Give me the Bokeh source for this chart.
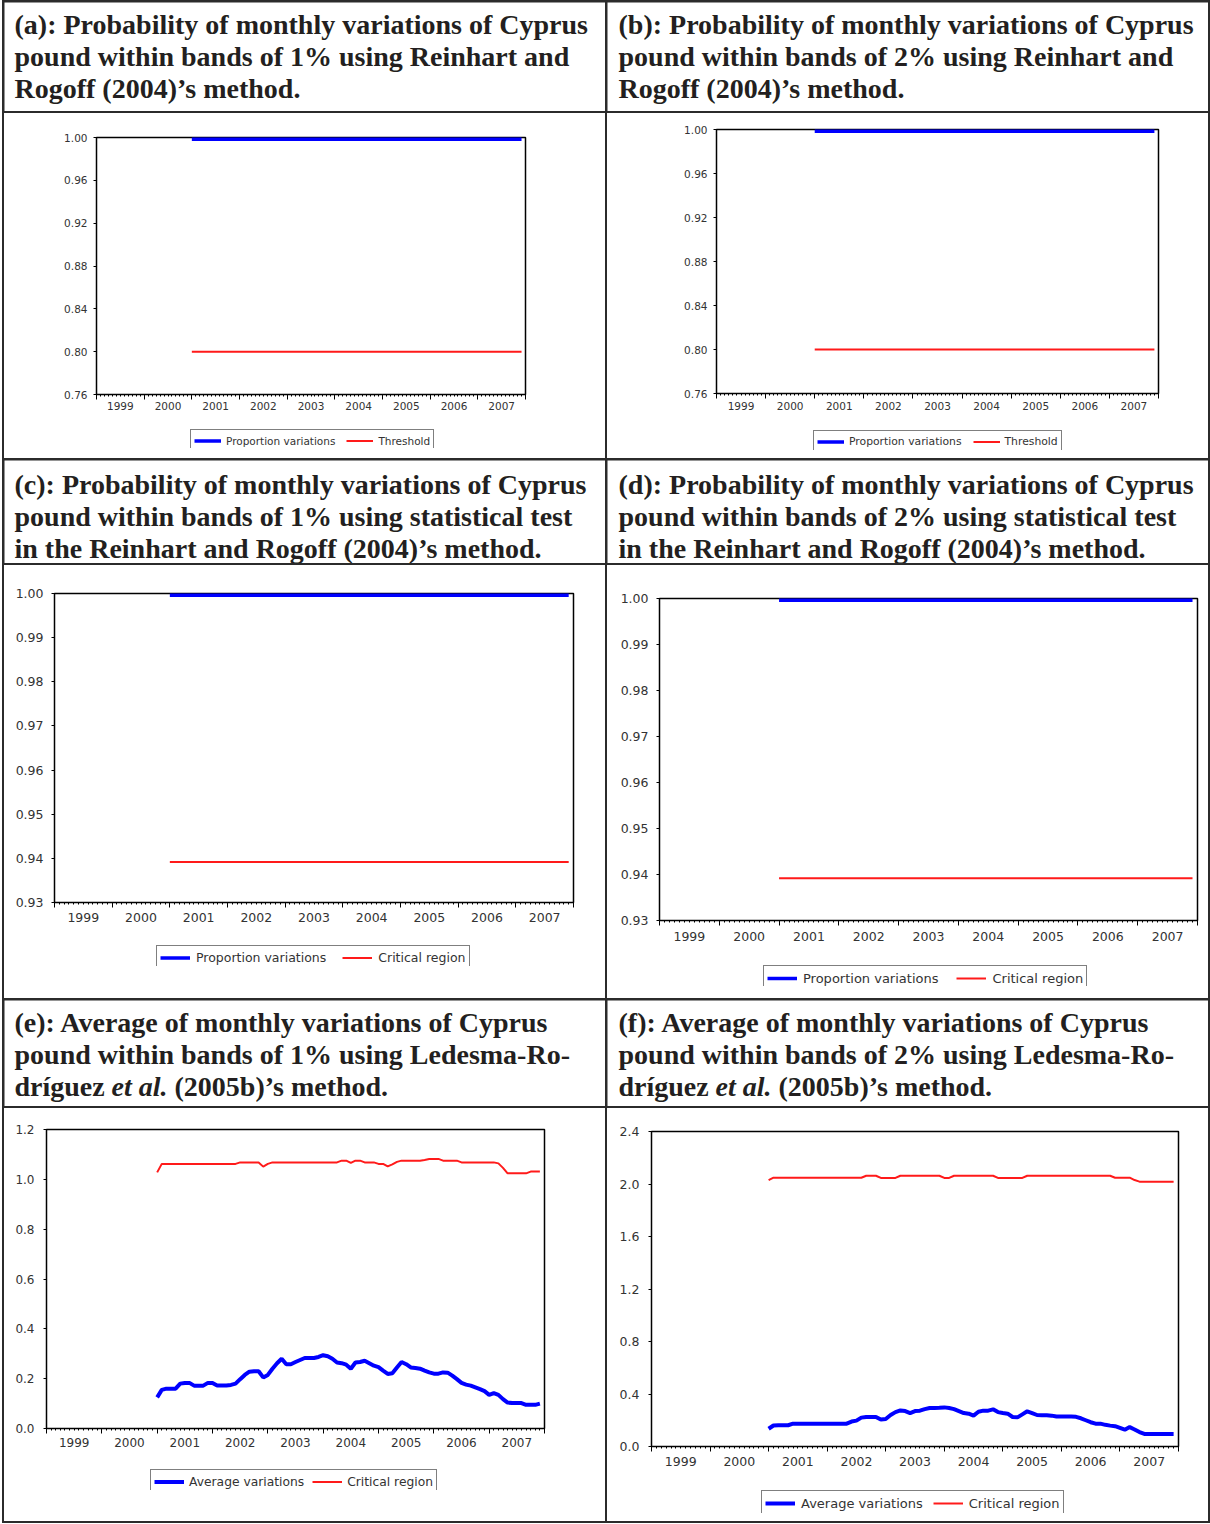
from bokeh.plotting import figure
from bokeh.models import (Range1d, FixedTicker, LinearAxis, NumeralTickFormatter,
                          Legend, LegendItem, ColumnDataSource, Spacer)
from bokeh.layouts import column, row
from bokeh.core.properties import value
from bokeh.embed import file_html
from bokeh.resources import INLINE

# ---------------- data ----------------
# monthly observations, Jan 2001 .. Dec 2007
month_index = list(range(84))
months = [2001 + i / 12 for i in month_index]

year_bounds = [1999, 2000, 2001, 2002, 2003, 2004, 2005, 2006, 2007, 2008]
year_mid = [1999.5, 2000.5, 2001.5, 2002.5, 2003.5, 2004.5, 2005.5, 2006.5, 2007.5]
year_labels = ["1999", "2000", "2001", "2002", "2003", "2004", "2005", "2006", "2007"]
month_ticks = [1999 + k / 12 for k in range(109)]

# (a), (b): proportion of variations within band vs threshold
prop_a = [1.00] * 84
thr_a = [0.80] * 84
prop_b = [1.00] * 84
thr_b = [0.80] * 84
# (c), (d): proportion vs statistical critical region
prop_c = [1.00] * 84
crit_c = [0.9392] * 84
prop_d = [1.00] * 84
crit_d = [0.9392] * 84

# (e): average variations, 1% band
avg_e = [0.125, 0.155, 0.160, 0.160, 0.160, 0.180, 0.183, 0.183, 0.172, 0.172,
         0.172, 0.183, 0.183, 0.173, 0.173, 0.173, 0.175, 0.180, 0.198, 0.215,
         0.228, 0.230, 0.230, 0.205, 0.215, 0.240, 0.262, 0.280, 0.258, 0.258,
         0.267, 0.275, 0.283, 0.283, 0.283, 0.287, 0.294, 0.290, 0.280, 0.265,
         0.262, 0.256, 0.240, 0.265, 0.267, 0.272, 0.262, 0.252, 0.246, 0.232,
         0.219, 0.222, 0.245, 0.267, 0.258, 0.245, 0.243, 0.240, 0.232, 0.225,
         0.220, 0.220, 0.225, 0.224, 0.212, 0.198, 0.183, 0.176, 0.172, 0.165,
         0.158, 0.150, 0.135, 0.142, 0.135, 0.118, 0.104, 0.102, 0.102, 0.102,
         0.095, 0.095, 0.095, 0.100]
crit_e = [1.028, 1.062, 1.062, 1.062, 1.062, 1.062, 1.062, 1.062, 1.062, 1.062,
          1.062, 1.062, 1.062, 1.062, 1.062, 1.062, 1.062, 1.062, 1.068, 1.068,
          1.068, 1.068, 1.068, 1.051, 1.062, 1.068, 1.068, 1.068, 1.068, 1.068,
          1.068, 1.068, 1.068, 1.068, 1.068, 1.068, 1.068, 1.068, 1.068, 1.068,
          1.075, 1.075, 1.066, 1.075, 1.075, 1.068, 1.068, 1.068, 1.062, 1.062,
          1.052, 1.060, 1.070, 1.075, 1.075, 1.075, 1.075, 1.075, 1.078, 1.082,
          1.082, 1.082, 1.075, 1.075, 1.075, 1.075, 1.068, 1.068, 1.068, 1.068,
          1.068, 1.068, 1.068, 1.068, 1.064, 1.046, 1.024, 1.024, 1.024, 1.024,
          1.024, 1.031, 1.031, 1.031]

# (f): average variations, 2% band
avg_f = [0.135, 0.160, 0.162, 0.162, 0.162, 0.174, 0.174, 0.174, 0.174, 0.174,
         0.174, 0.174, 0.174, 0.174, 0.174, 0.174, 0.174, 0.190, 0.197, 0.220,
         0.225, 0.225, 0.225, 0.205, 0.210, 0.240, 0.262, 0.275, 0.270, 0.255,
         0.270, 0.273, 0.285, 0.293, 0.293, 0.295, 0.298, 0.293, 0.285, 0.270,
         0.255, 0.250, 0.235, 0.265, 0.273, 0.273, 0.283, 0.262, 0.255, 0.250,
         0.225, 0.222, 0.245, 0.268, 0.255, 0.240, 0.238, 0.238, 0.235, 0.228,
         0.228, 0.228, 0.228, 0.226, 0.215, 0.200, 0.185, 0.174, 0.174, 0.165,
         0.159, 0.155, 0.142, 0.128, 0.148, 0.130, 0.110, 0.096, 0.096, 0.096,
         0.096, 0.096, 0.096, 0.096]
crit_f = [2.030, 2.048, 2.048, 2.048, 2.048, 2.048, 2.048, 2.048, 2.048, 2.048,
          2.048, 2.048, 2.048, 2.048, 2.048, 2.048, 2.048, 2.048, 2.048, 2.048,
          2.063, 2.063, 2.063, 2.046, 2.046, 2.046, 2.046, 2.063, 2.063, 2.063,
          2.063, 2.063, 2.063, 2.063, 2.063, 2.063, 2.046, 2.046, 2.063, 2.063,
          2.063, 2.063, 2.063, 2.063, 2.063, 2.063, 2.063, 2.046, 2.046, 2.046,
          2.046, 2.046, 2.046, 2.063, 2.063, 2.063, 2.063, 2.063, 2.063, 2.063,
          2.063, 2.063, 2.063, 2.063, 2.063, 2.063, 2.063, 2.063, 2.063, 2.063,
          2.063, 2.048, 2.048, 2.048, 2.048, 2.030, 2.018, 2.018, 2.018, 2.018,
          2.018, 2.018, 2.018, 2.018]

yticks_ab = [0.76, 0.80, 0.84, 0.88, 0.92, 0.96, 1.00]
yticks_cd = [0.93, 0.94, 0.95, 0.96, 0.97, 0.98, 0.99, 1.00]
yticks_e = [0.0, 0.2, 0.4, 0.6, 0.8, 1.0, 1.2]
yticks_f = [0.0, 0.4, 0.8, 1.2, 1.6, 2.0, 2.4]

titles = {
    "a": ["(a): Probability of monthly variations of Cyprus",
          "pound within bands of 1% using Reinhart and",
          "Rogoff (2004)\u2019s method."],
    "b": ["(b): Probability of monthly variations of Cyprus",
          "pound within bands of 2% using Reinhart and",
          "Rogoff (2004)\u2019s method."],
    "c": ["(c): Probability of monthly variations of Cyprus",
          "pound within bands of 1% using statistical test",
          "in the Reinhart and Rogoff (2004)\u2019s method."],
    "d": ["(d): Probability of monthly variations of Cyprus",
          "pound within bands of 2% using statistical test",
          "in the Reinhart and Rogoff (2004)\u2019s method."],
    "e": ["(e): Average of monthly variations of Cyprus",
          "pound within bands of 1% using Ledesma-Ro-",
          ["dr\u00edguez", "et al.", "(2005b)\u2019s method."]],
    "f": ["(f): Average of monthly variations of Cyprus",
          "pound within bands of 2% using Ledesma-Ro-",
          ["dr\u00edguez", "et al.", "(2005b)\u2019s method."]],
}

# ---------------- layout constants ----------------
W = 601
TITLE_FONT = "Liberation Serif"
TITLE_SIZE = "28px"
TITLE_COLOR = "#231f20"
TICK_FONT = "DejaVu Sans"
TEXT_GREY = "#333333"
BLUE = "#0000ff"
RED = "#ff1a1a"
LEG_PAD = 3
LEG_TOP = 3


def header_fig(lines, h, x0, centers):
    p = figure(width=W, height=h, x_range=Range1d(0, W), y_range=Range1d(h, 0),
               x_axis_type=None, y_axis_type=None, toolbar_location=None,
               output_backend="svg", min_border=0)
    p.outline_line_color = None
    p.background_fill_color = "white"
    p.border_fill_color = "white"
    for y, line in zip(centers, lines):
        if isinstance(line, list):
            segs = [(x0, line[0], "bold"), (x0 + 97, line[1], "bold italic"),
                    (x0 + 160, line[2], "bold")]
        else:
            segs = [(x0, line, "bold")]
        for x, txt, style in segs:
            p.text(x=[x], y=[y], text=[txt], text_font=value(TITLE_FONT),
                   text_font_style=style, text_font_size=TITLE_SIZE,
                   text_color=TITLE_COLOR, text_baseline="middle", text_align="left")
    return p


def legend_strip(S, blue, red, labels, s):
    """Strip below the axes holding the legend box; its lower edge is cut by the strip."""
    p = figure(width=W, height=S, x_range=Range1d(1999, 2008), y_range=Range1d(-2, -1),
               x_axis_type=None, y_axis_type=None, toolbar_location=None,
               output_backend="svg", min_border=0)
    p.outline_line_color = None
    p.background_fill_color = "white"
    p.border_fill_color = "white"
    src = ColumnDataSource(dict(x=months, blue=blue, red=red))
    rb = p.line("x", "blue", source=src, line_color=BLUE, line_width=s["lbw"])
    rr = p.line("x", "red", source=src, line_color=RED, line_width=2)
    H = 2 * LEG_PAD + s["ih"]
    leg = Legend(items=[LegendItem(label=labels[0], renderers=[rb]),
                        LegendItem(label=labels[1], renderers=[rr])],
                 orientation="horizontal",
                 location=(s["ldx"], S - LEG_TOP - H),
                 border_line_color="black", border_line_width=1.5,
                 background_fill_color="white", background_fill_alpha=1.0,
                 padding=LEG_PAD, spacing=s["lsp"], margin=0,
                 glyph_width=s["gw"], glyph_height=s["ih"], label_height=s["ih"],
                 label_standoff=s["lst"], label_text_font=TICK_FONT,
                 label_text_font_size=s["lfs"], label_text_color=TEXT_GREY)
    p.add_layout(leg, "center")
    return p


def chart_cell(cell_h, s, blue, red, labels, yticks, yrange, fmt):
    fig_h = s["top"] + s["frame_h"] + s["B"]
    p = figure(width=W, height=fig_h, x_range=Range1d(1999, 2008),
               y_range=Range1d(*yrange), x_axis_type=None,
               toolbar_location=None, output_backend="svg",
               min_border_left=s["left"], min_border_right=s["right"],
               min_border_top=s["top"], min_border_bottom=s["B"])
    p.ygrid.visible = False
    p.outline_line_color = "black"
    p.outline_line_width = 1.5
    p.background_fill_color = "white"
    p.border_fill_color = "white"

    yax = p.yaxis[0]
    yax.ticker = FixedTicker(ticks=yticks)
    yax.formatter = NumeralTickFormatter(format=fmt)
    yax.axis_line_color = None
    yax.major_tick_in = 0
    yax.major_tick_out = 3
    yax.minor_tick_out = 0
    yax.major_tick_line_color = "black"
    yax.major_label_text_font = TICK_FONT
    yax.major_label_text_font_size = s["fs"]
    yax.major_label_text_color = TEXT_GREY
    yax.major_label_standoff = s["ystand"]

    ax1 = LinearAxis(ticker=FixedTicker(ticks=year_bounds, minor_ticks=month_ticks),
                     axis_line_color=None, major_tick_in=0, major_tick_out=5,
                     minor_tick_in=0, minor_tick_out=2,
                     major_tick_line_color="black", minor_tick_line_color="black",
                     major_label_overrides={yb: "" for yb in year_bounds},
                     major_label_text_font_size="1px", major_label_standoff=0)
    p.add_layout(ax1, "below")
    ax2 = LinearAxis(ticker=FixedTicker(ticks=year_mid),
                     major_label_overrides=dict(zip(year_mid, year_labels)),
                     axis_line_color=None, major_tick_in=0, major_tick_out=0,
                     minor_tick_in=0, minor_tick_out=0,
                     major_label_text_font=TICK_FONT,
                     major_label_text_font_size=s["fs"],
                     major_label_text_color=TEXT_GREY,
                     major_label_standoff=s["xstand"])
    p.add_layout(ax2, "below")

    src = ColumnDataSource(dict(x=months, blue=blue, red=red))
    p.line("x", "blue", source=src, line_color=BLUE, line_width=s["bw"])
    p.line("x", "red", source=src, line_color=RED, line_width=2)

    strip = legend_strip(s["S"], blue, red, labels, s)
    sp = Spacer(width=W, height=cell_h - fig_h - s["S"])
    return column(p, strip, sp, spacing=0, styles={"background-color": "white"})


specs = {
    "a": dict(left=92, right=80, top=24, frame_h=257, B=34, S=20, ldx=94,
              fs="10.5px", lfs="10.5px", ystand=6, xstand=2, bw=7, lbw=3.5,
              gw=27, lsp=11, lst=5, ih=15),
    "b": dict(left=109, right=50, top=16, frame_h=264, B=36, S=21, ldx=97,
              fs="10.5px", lfs="10.8px", ystand=6, xstand=3, bw=7, lbw=3.5,
              gw=27, lsp=11, lst=5, ih=15),
    "c": dict(left=50, right=32, top=28, frame_h=309, B=42, S=22, ldx=102,
              fs="12.5px", lfs="12.5px", ystand=8, xstand=5, bw=7, lbw=3.5,
              gw=30, lsp=16, lst=6, ih=17),
    "d": dict(left=52, right=11, top=33, frame_h=322, B=44, S=22, ldx=104,
              fs="12.5px", lfs="13px", ystand=8, xstand=6, bw=7, lbw=3.5,
              gw=30, lsp=18, lst=6, ih=18),
    "e": dict(left=42, right=61, top=21, frame_h=299, B=40, S=22, ldx=104,
              fs="12px", lfs="12.3px", ystand=9, xstand=4, bw=4, lbw=4,
              gw=30, lsp=8, lst=5, ih=17),
    "f": dict(left=44, right=30, top=23, frame_h=315, B=43, S=24, ldx=110,
              fs="12.5px", lfs="13px", ystand=9, xstand=5, bw=4, lbw=4,
              gw=30, lsp=10, lst=6, ih=18),
}

HEADER_H = [109, 103, 106]
CELL_H = [345, 433, 413]

cA = chart_cell(CELL_H[0], specs["a"], prop_a, thr_a,
                ["Proportion variations", "Threshold"], yticks_ab, (0.76, 1.00), "0.00")
cB = chart_cell(CELL_H[0], specs["b"], prop_b, thr_b,
                ["Proportion variations", "Threshold"], yticks_ab, (0.76, 1.00), "0.00")
cC = chart_cell(CELL_H[1], specs["c"], prop_c, crit_c,
                ["Proportion variations", "Critical region"], yticks_cd, (0.93, 1.00), "0.00")
cD = chart_cell(CELL_H[1], specs["d"], prop_d, crit_d,
                ["Proportion variations", "Critical region"], yticks_cd, (0.93, 1.00), "0.00")
cE = chart_cell(CELL_H[2], specs["e"], avg_e, crit_e,
                ["Average variations", "Critical region"], yticks_e, (0.0, 1.2), "0.0")
cF = chart_cell(CELL_H[2], specs["f"], avg_f, crit_f,
                ["Average variations", "Critical region"], yticks_f, (0.0, 2.4), "0.0")

layout = column(
    row(header_fig(titles["a"], HEADER_H[0], 10, [22, 54, 86]),
        header_fig(titles["b"], HEADER_H[0], 11, [22, 54, 86]), spacing=2),
    row(cA, cB, spacing=2),
    row(header_fig(titles["c"], HEADER_H[1], 10, [24, 56, 88]),
        header_fig(titles["d"], HEADER_H[1], 11, [24, 56, 88]), spacing=2),
    row(cC, cD, spacing=2),
    row(header_fig(titles["e"], HEADER_H[2], 10, [22, 54, 86]),
        header_fig(titles["f"], HEADER_H[2], 11, [22, 54, 86]), spacing=2),
    row(cE, cF, spacing=2),
    spacing=2,
    styles={"background-color": "#2b2b2b", "padding": "2px", "margin-left": "2px"},
)

open("out.html", "w").write(file_html(layout, INLINE))
